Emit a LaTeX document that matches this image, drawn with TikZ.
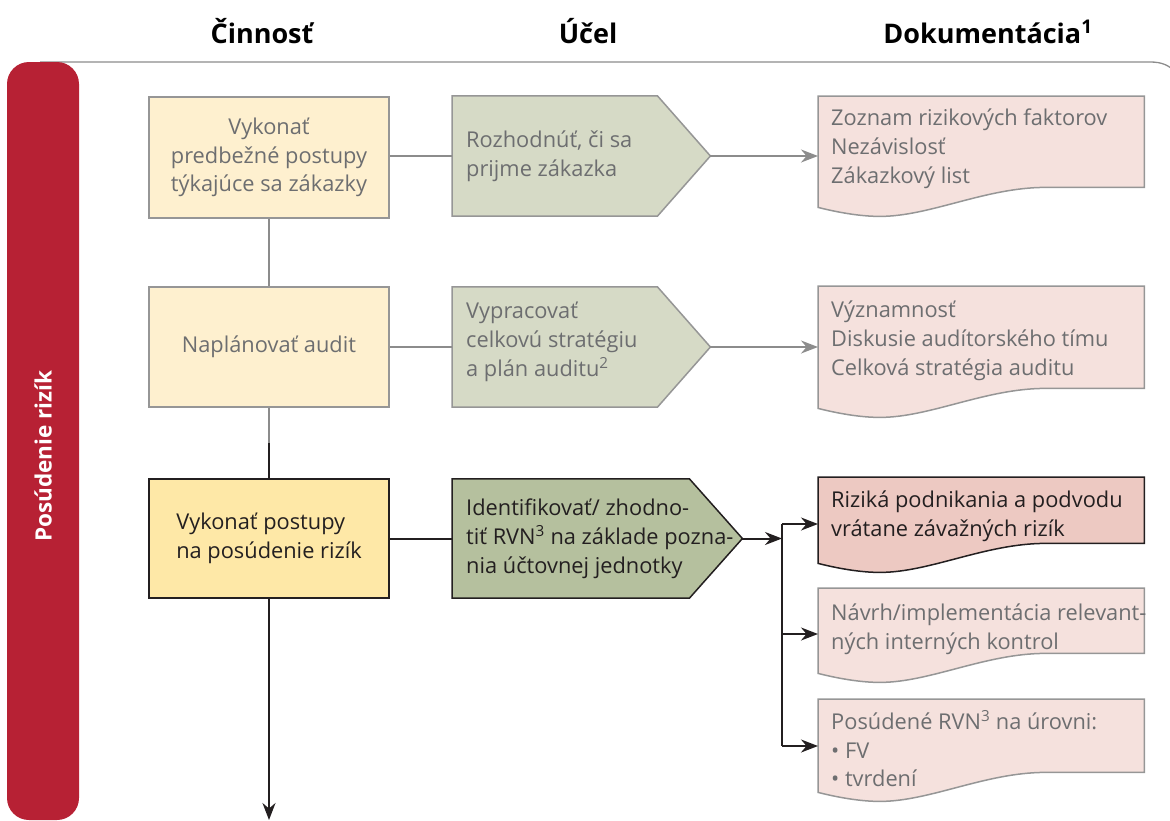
\documentclass[tikz,border=0pt]{standalone}
\usepackage{fontspec}
\setmainfont{Open Sans}
\usepackage{xcolor}
\usepackage{tikz}
\usetikzlibrary{positioning,calc,arrows.meta}

\definecolor{riskred}{RGB}{183,33,52}
\definecolor{boxgray}{RGB}{150,150,150}
\definecolor{conngray}{RGB}{140,140,140}
\definecolor{txtgray}{RGB}{109,110,112}
\definecolor{txtdark}{RGB}{35,31,32}
\definecolor{paleyellow}{RGB}{254,240,207}
\definecolor{deepyellow}{RGB}{254,232,167}
\definecolor{sagelight}{RGB}{214,218,198}
\definecolor{sagedark}{RGB}{181,192,158}
\definecolor{pinklight}{RGB}{245,225,221}
\definecolor{pinkdark}{RGB}{237,201,194}

\begin{document}
\begin{tikzpicture}[x=1pt,y=-1pt,
  hdr/.style={font=\bfseries\fontsize{27}{32}\selectfont, text=black},
  body/.style={font=\fontsize{21.8}{28.8}\selectfont, inner sep=0pt},
  actbox/.style={body, draw=boxgray, fill=paleyellow, text=txtgray, line width=1.5,
    minimum width=240, minimum height=120, align=center},
  shapebox/.style={minimum width=205, minimum height=120, inner sep=0pt},
  docbox/.style={minimum width=326, inner sep=0pt, anchor=north west},
  grayline/.style={draw=conngray, line width=1.6},
  darkline/.style={draw=txtdark, line width=2},
  grayarrow/.style={grayline, -{Stealth[length=17pt,width=13pt]}},
  darkarrow/.style={darkline, -{Stealth[length=17pt,width=13pt]}}]
  \useasboundingbox (0,0) rectangle (1170,820);

  \node[hdr, anchor=base] (h1) at (262,43) {Činnosť};
  \node[hdr, anchor=base] (h2) at (588,43) {Účel};
  \node[hdr, anchor=base] (h3) at (988,43) {Dokumentácia\textsuperscript{1}};

  \draw[grayline, line width=1.3] (40,62) -- (1150,62) .. controls (1162,62) and (1168,65) .. (1176,72);
  \node[fill=riskred, rounded corners=22, minimum width=72, minimum height=758, inner sep=0pt] (lane) at (43,441) {};
  \node[font=\bfseries\fontsize{22.5}{26}\selectfont, text=white, rotate=90] (lanelbl) at (43,456) {Posúdenie rizík};

  \node[actbox, minimum height=121] (act1) at (269,157.5) {Vykonať\\predbežné postupy\\týkajúce sa zákazky};
  \node[actbox] (act2) at (269,347) {Naplánovať audit};
  \node[actbox, fill=deepyellow, draw=txtdark, text=txtdark, align=left, minimum height=119] (act3) at (269,538.5) {Vykonať postupy\\na posúdenie rizík};

  \node[shapebox, anchor=west] (aim1) at (452,156) {};
  \node[shapebox, anchor=west] (aim2) at (452,347) {};
  \node[shapebox, anchor=west, minimum width=237, minimum height=119] (aim3) at (452,538.5) {};
  \draw[draw=boxgray, fill=sagelight, line width=1.5] (aim1.north west) -- (aim1.north east) -- ($(aim1.east)+(53,0)$) coordinate (tip1) -- (aim1.south east) -- (aim1.south west) -- cycle;
  \draw[draw=boxgray, fill=sagelight, line width=1.5] (aim2.north west) -- (aim2.north east) -- ($(aim2.east)+(53,0)$) coordinate (tip2) -- (aim2.south east) -- (aim2.south west) -- cycle;
  \draw[draw=txtdark, fill=sagedark, line width=1.5] (aim3.north west) -- (aim3.north east) -- ($(aim3.east)+(53,0)$) coordinate (tip3) -- (aim3.south east) -- (aim3.south west) -- cycle;
  \node[body, anchor=west, align=left, text=txtgray] (aim1txt) at ([xshift=14pt]aim1.west) {Rozhodnúť, či sa\\prijme zákazka};
  \node[body, anchor=west, align=left, text=txtgray] (aim2txt) at ([xshift=14pt,yshift=5pt]aim2.west) {Vypracovať\\celkovú stratégiu\\a plán auditu\textsuperscript{2}};
  \node[body, anchor=west, align=left, text=txtdark] (aim3txt) at ([xshift=14pt]aim3.west) {Identifikovať/ zhodno-\\tiť RVN\textsuperscript{3} na základe pozna-\\nia účtovnej jednotky};

  \node[docbox, minimum height=91] (doc1) at (818,96) {};
  \node[docbox, minimum height=102] (doc2) at (818,286) {};
  \node[docbox, minimum height=66] (doc3) at (818,477) {};
  \node[docbox, minimum height=65] (doc4) at (818,588) {};
  \node[docbox, minimum height=73] (doc5) at (818,699) {};
  \foreach \d/\f/\c in {doc1/pinklight/boxgray, doc2/pinklight/boxgray, doc3/pinkdark/txtdark, doc4/pinklight/boxgray, doc5/pinklight/boxgray}
    \draw[draw=\c, fill=\f, line width=1.5] (\d.north west) -- (\d.north east) -- (\d.south east) -- ($(\d.south east)+(-99,0)$)
      .. controls +(-60,0) and +(50,0) .. ($(\d.south west)+(62,29)$)
      .. controls +(-20,0) and +(20,5) .. ($(\d.south west)+(0,20)$) -- cycle;
  \node[body, anchor=west, align=left, text=txtgray] (doc1txt) at (831,148.5) {Zoznam rizikových faktorov\\Nezávislosť\\Zákazkový list};
  \node[body, anchor=west, align=left, text=txtgray] (doc2txt) at (831,341) {Významnosť\\Diskusie audítorského tímu\\Celková stratégia auditu};
  \node[body, anchor=west, align=left, text=txtdark] (doc3txt) at (831,516.5) {Riziká podnikania a podvodu\\vrátane závažných rizík};
  \node[body, anchor=west, align=left, text=txtgray] (doc4txt) at (831,629) {Návrh/implementácia relevant-\\ných interných kontrol};
  \node[body, anchor=west, align=left, text=txtgray] (doc5txt) at (831,749) {Posúdené RVN\textsuperscript{3} na úrovni:\\\textbullet{} FV\\\textbullet{} tvrdení};

  \coordinate (mid) at ($(act2.south)!0.5!(act3.north)$);
  \coordinate (next) at (269,820);
  \coordinate (bus) at (782,538.5);
  \coordinate (f3) at (782,524);
  \coordinate (f4) at (782,634);
  \coordinate (f5) at (782,746);

  \draw[grayline] (act1.south) -- (act2.north);
  \draw[grayline] (act2.south) -- (mid);
  \draw[darkline] (mid) -- (act3.north);
  \draw[darkarrow] (act3.south) -- (next);
  \draw[grayline] (act1.east |- aim1.west) -- (aim1.west);
  \draw[grayline] (act2.east) -- (aim2.west);
  \draw[darkline] (act3.east) -- (aim3.west);
  \draw[grayarrow] (tip1) -- (tip1 -| doc1.west);
  \draw[grayarrow] (tip2) -- (tip2 -| doc2.west);
  \draw[darkarrow] (tip3) -- (bus);
  \draw[darkline] (f3) -- (f5);
  \draw[darkarrow] (f3) -- (f3 -| doc3.west);
  \draw[darkarrow] (f4) -- (f4 -| doc4.west);
  \draw[darkarrow] (f5) -- (f5 -| doc5.west);
\end{tikzpicture}
\end{document}
